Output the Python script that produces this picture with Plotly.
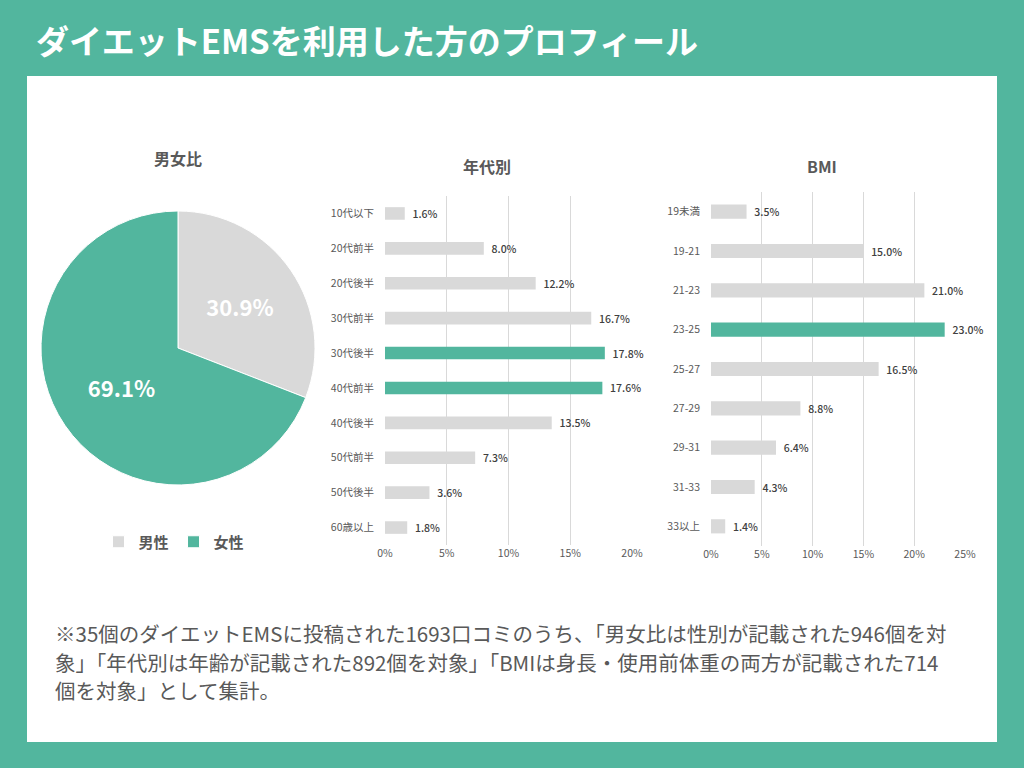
import plotly.graph_objects as go

# データ
gender_labels = ["男性", "女性"]
gender_values = [30.9, 69.1]

age_labels = ["10代以下", "20代前半", "20代後半", "30代前半", "30代後半",
              "40代前半", "40代後半", "50代前半", "50代後半", "60歳以上"]
age_values = [1.6, 8.0, 12.2, 16.7, 17.8, 17.6, 13.5, 7.3, 3.6, 1.8]
age_highlight = ["30代後半", "40代前半"]

bmi_labels = ["19未満", "19-21", "21-23", "23-25", "25-27",
              "27-29", "29-31", "31-33", "33以上"]
bmi_values = [3.5, 15.0, 21.0, 23.0, 16.5, 8.8, 6.4, 4.3, 1.4]
bmi_highlight = ["23-25"]

title_text = "ダイエットEMSを利用した方のプロフィール"
note_lines = [
    "※35個のダイエットEMSに投稿された1693口コミのうち、「男女比は性別が記載された946個を対",
    "象」「年代別は年齢が記載された892個を対象」「BMIは身長・使用前体重の両方が記載された714",
    "個を対象」として集計。",
]

TEAL = "#52b69e"
GRAY = "#d9d9d9"
TXT = "#595959"
FONT = "Noto Sans CJK JP"
W, H = 1024, 768


def px_x(v):
    return v / W


def px_y(v):
    return 1 - v / H


fig = go.Figure()

# 円グラフ
fig.add_trace(go.Pie(
    labels=gender_labels, values=gender_values,
    marker=dict(colors=[GRAY, TEAL], line=dict(color="white", width=1)),
    sort=False, direction="clockwise", rotation=0,
    texttemplate="%{value:.1f}%", textposition="inside",
    insidetextorientation="horizontal",
    textfont=dict(color="white", size=22, family=FONT, weight=700),
    domain=dict(x=[px_x(41), px_x(315)], y=[px_y(485), px_y(211)]),
    hoverinfo="label+percent",
))


def bar_trace(labels, values, highlight, xa, ya):
    colors = [TEAL if l in highlight else GRAY for l in labels]
    return go.Bar(
        x=values, y=labels, orientation="h",
        marker=dict(color=colors, line=dict(width=0)),
        width=0.36,
        text=["  %.1f%%" % v for v in values], textposition="outside",
        constraintext="none",
        textfont=dict(size=10.5, color="#404040", family=FONT, weight=500),
        cliponaxis=False, showlegend=False,
        xaxis=xa, yaxis=ya,
    )


fig.add_trace(bar_trace(age_labels, age_values, age_highlight, "x", "y"))
fig.add_trace(bar_trace(bmi_labels, bmi_values, bmi_highlight, "x2", "y2"))

axis_x = dict(showgrid=True, gridcolor="#d9d9d9", gridwidth=1, zeroline=False,
              ticksuffix="%", tickfont=dict(size=10.5, color=TXT, family=FONT),
              showline=False, ticks="", fixedrange=True, automargin=False)
axis_y = dict(autorange="reversed", showgrid=False, zeroline=False,
              tickfont=dict(size=10.5, color=TXT, family=FONT),
              ticks="", ticklabelstandoff=10, fixedrange=True, automargin=False)

fig.update_layout(
    width=W, height=H,
    margin=dict(l=0, r=0, t=0, b=0, pad=0, autoexpand=False),
    paper_bgcolor=TEAL, plot_bgcolor="white",
    font=dict(family=FONT, color=TXT),
    xaxis=dict(axis_x, domain=[px_x(385), px_x(632)], range=[0, 20], dtick=5),
    yaxis=dict(axis_y, domain=[px_y(545), px_y(196)]),
    xaxis2=dict(axis_x, domain=[px_x(711), px_x(965)], range=[0, 25], dtick=5, anchor="y2"),
    yaxis2=dict(axis_y, domain=[px_y(546), px_y(192)], anchor="x2"),
    legend=dict(orientation="h", x=px_x(174), xanchor="center", y=px_y(542), yanchor="middle",
                font=dict(size=15, color=TXT, family=FONT, weight=700),
                itemwidth=30, bgcolor="rgba(0,0,0,0)"),
    shapes=[dict(type="rect", xref="paper", yref="paper",
                 x0=px_x(27), x1=px_x(997), y0=px_y(742), y1=px_y(76),
                 fillcolor="white", line=dict(width=0), layer="below")],
)

annotations = [
    dict(text=title_text, x=px_x(34), y=px_y(40), xanchor="left", yanchor="middle",
         font=dict(size=33, color="white", family=FONT, weight=700)),
    dict(text="男女比", x=px_x(178), y=px_y(158), xanchor="center", yanchor="middle",
         font=dict(size=16, color=TXT, family=FONT, weight=700)),
    dict(text="年代別", x=px_x(487), y=px_y(166), xanchor="center", yanchor="middle",
         font=dict(size=16, color=TXT, family=FONT, weight=700)),
    dict(text="BMI", x=px_x(822), y=px_y(166), xanchor="center", yanchor="middle",
         font=dict(size=16, color=TXT, family=FONT, weight=700)),
]
for i, line in enumerate(note_lines):
    annotations.append(dict(text=line, x=px_x(53), y=px_y(633 + 28.5 * i),
                            xanchor="left", yanchor="middle",
                            font=dict(size=20.5, color=TXT, family=FONT)))
for a in annotations:
    a.update(xref="paper", yref="paper", showarrow=False)
fig.update_layout(annotations=annotations)

# ページ余白を消して左上に固定
js = ("document.documentElement.style.margin='0';"
      "document.documentElement.style.overflow='hidden';"
      "document.body.style.margin='0';document.body.style.overflow='hidden';"
      "var d=document.getElementById('{plot_id}');"
      "d.style.position='fixed';d.style.left='0px';d.style.top='0px';")
fig.write_html("out.html", config={"displayModeBar": False}, post_script=js)
